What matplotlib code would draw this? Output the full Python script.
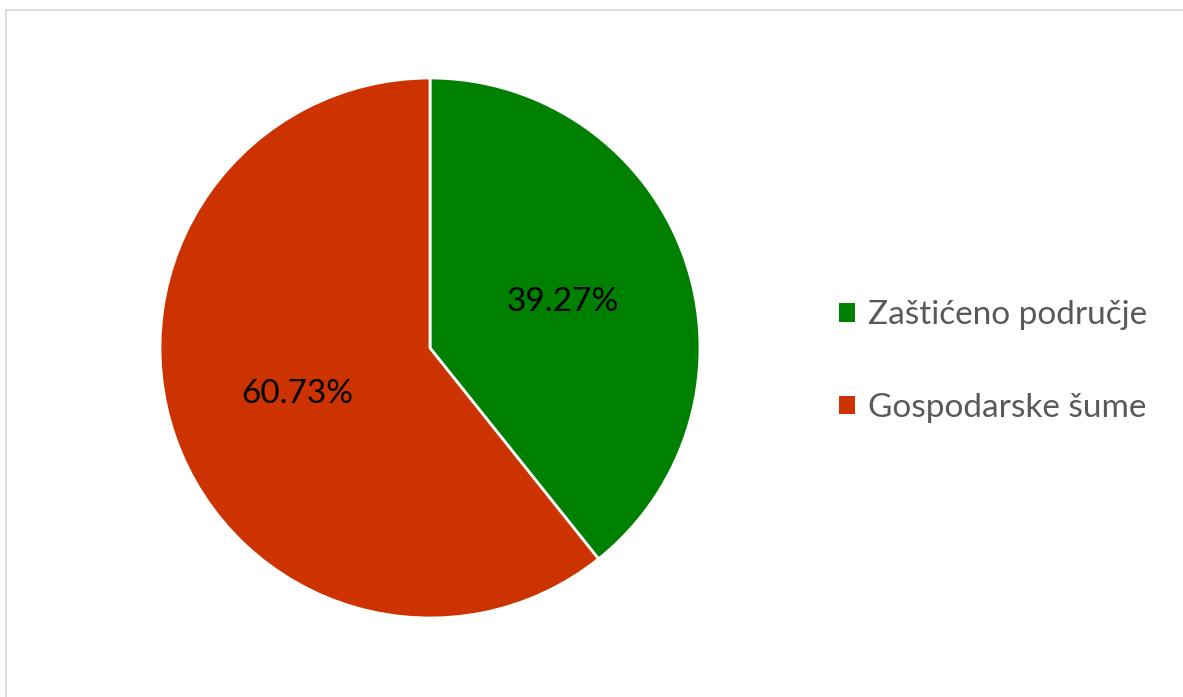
import matplotlib
matplotlib.use('Agg')
import matplotlib.pyplot as plt
from matplotlib.patches import Rectangle

labels = ['Zaštićeno područje', 'Gospodarske šume']
shares = [39.27, 60.73]
colors = ['#008000', '#CC3300']

plt.rcParams['font.family'] = ['Lato', 'DejaVu Sans']

fig = plt.figure(figsize=(11.83, 6.97), dpi=100)

# light frame around the chart area (cut off on right/bottom like the original)
fig.patches.append(Rectangle((6 / 1183, -0.1), 1.2, 687 / 697 + 0.1,
                             transform=fig.transFigure, fill=False,
                             edgecolor='#D9D9D9', linewidth=1.2))

ax = fig.add_axes([160 / 1183, 79 / 697, 540 / 1183, 540 / 697])
wedges, texts, autotexts = ax.pie(
    shares, colors=colors, startangle=90, counterclock=False,
    autopct='%.2f%%', pctdistance=0.52, radius=1,
    wedgeprops=dict(edgecolor='white', linewidth=2),
    textprops=dict(fontsize=24, color='black'))
ax.set_xlim(-1, 1)
ax.set_ylim(-1, 1)
ax.set_aspect('equal')

leg = fig.legend(wedges, labels, loc='center left',
                 bbox_to_anchor=(839 / 1183, 335.5 / 697),
                 frameon=False, fontsize=24, handlelength=0.48,
                 handleheight=0.48, handletextpad=0.39, labelspacing=1.88,
                 borderpad=0, borderaxespad=0)
for t in leg.get_texts():
    t.set_color('#595959')
for h in leg.legend_handles:
    h.set_edgecolor('none')

fig.savefig('out.png', dpi=100)
